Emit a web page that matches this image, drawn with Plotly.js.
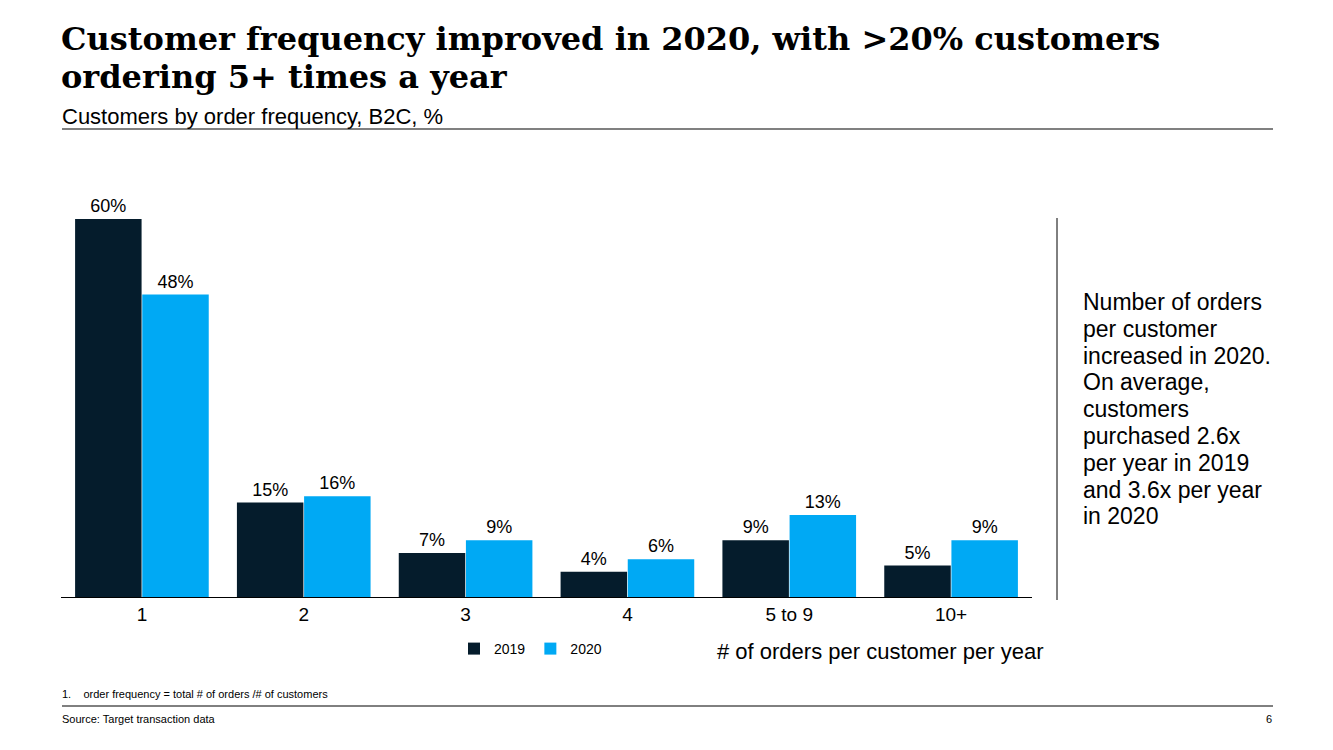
<!DOCTYPE html>
<html>
<head>
<meta charset="utf-8">
<script src="https://cdn.plot.ly/plotly-3.0.1.min.js"></script>
<style>
html,body{margin:0;padding:0;background:#fff;}
#chart{width:1333px;height:750px;}
</style>
</head>
<body>
<div id="chart"></div>
<script>
// ---- data ----
const categories = ["1", "2", "3", "4", "5 to 9", "10+"];
const values2019 = [60, 15, 7, 4, 9, 5];
const values2020 = [48, 16, 9, 6, 13, 9];
const seriesNames = ["2019", "2020"];
const titleLines = ["Customer frequency improved in 2020, with >20% customers", "ordering 5+ times a year"];
const subtitleText = "Customers by order frequency, B2C, %";
const xAxisTitle = "# of orders per customer per year";
const sideNoteLines = ["Number of orders", "per customer", "increased in 2020.", "On average,", "customers", "purchased 2.6x", "per year in 2019", "and 3.6x per year", "in 2020"];
const footnote = "1.&nbsp;&nbsp;&nbsp;&nbsp;order frequency = total # of orders /# of customers";
const sourceText = "Source: Target transaction data";
const pageNum = "6";

// ---- layout geometry ----
const W = 1333, H = 750;
const mL = 61, mR = W - 1032, mT = 170, mB = 153;
const plotW = W - mL - mR, plotH = H - mT - mB;
const pxPerUnit = 6.3;
const yMax = plotH / pxPerUnit;
const xp = px => (px - mL) / plotW;
const yp = py => (H - mB - py) / plotH;

const SANS = "Liberation Sans, Arial, sans-serif";
const SERIF = "DejaVu Serif, serif";
const dark = "#051C2C", light = "#00A9F4";

const traces = [
  {type: "bar", name: seriesNames[0], x: categories, y: values2019,
   marker: {color: dark}, text: values2019.map(v => v + "%"), textposition: "outside",
   textfont: {family: SANS, size: 18, color: "#000"}, cliponaxis: false, hoverinfo: "skip"},
  {type: "bar", name: seriesNames[1], x: categories, y: values2020,
   marker: {color: light}, text: values2020.map(v => v + "%"), textposition: "outside",
   textfont: {family: SANS, size: 18, color: "#000"}, cliponaxis: false, hoverinfo: "skip"}
];

const annotations = [
  {text: subtitleText, xref: "paper", yref: "paper", x: xp(60), y: yp(116), xanchor: "left", yanchor: "middle",
   showarrow: false, font: {family: SANS, size: 22, color: "#000"}},
  {text: xAxisTitle, xref: "paper", yref: "paper", x: xp(1045), y: yp(651), xanchor: "right", yanchor: "middle",
   showarrow: false, font: {family: SANS, size: 22, color: "#000"}},
  {text: footnote, xref: "paper", yref: "paper", x: xp(60), y: yp(694), xanchor: "left", yanchor: "middle",
   showarrow: false, font: {family: SANS, size: 11, color: "#000"}},
  {text: sourceText, xref: "paper", yref: "paper", x: xp(60), y: yp(719), xanchor: "left", yanchor: "middle",
   showarrow: false, font: {family: SANS, size: 11, color: "#000"}},
  {text: pageNum, xref: "paper", yref: "paper", x: xp(1274), y: yp(719), xanchor: "right", yanchor: "middle",
   showarrow: false, font: {family: SANS, size: 11, color: "#000"}}
];
titleLines.forEach((line, i) => {
  annotations.push({text: "<b>" + line + "</b>", xref: "paper", yref: "paper", x: xp(59), y: yp(39 + i * 38),
    xanchor: "left", yanchor: "middle", showarrow: false, font: {family: SERIF, size: 32, color: "#000"}});
});
sideNoteLines.forEach((line, i) => {
  annotations.push({text: line, xref: "paper", yref: "paper", x: xp(1081), y: yp(302 + i * 26.8),
    xanchor: "left", yanchor: "middle", showarrow: false, font: {family: SANS, size: 23, color: "#000"}});
});

const shapes = [
  {type: "line", xref: "paper", yref: "paper", x0: xp(62), x1: xp(1273), y0: yp(129), y1: yp(129),
   line: {color: "#808080", width: 2}},
  {type: "line", xref: "paper", yref: "paper", x0: xp(1057), x1: xp(1057), y0: yp(218), y1: yp(600),
   line: {color: "#000", width: 1}},
  {type: "line", xref: "paper", yref: "paper", x0: xp(62), x1: xp(1273), y0: yp(706), y1: yp(706),
   line: {color: "#000", width: 1}}
];

const layout = {
  width: W, height: H,
  margin: {l: mL, r: mR, t: mT, b: mB, pad: 0},
  paper_bgcolor: "#fff", plot_bgcolor: "#fff",
  barmode: "group", bargap: 0.17, bargroupgap: 0.01,
  xaxis: {type: "category", showline: true, linecolor: "#000", linewidth: 1, ticks: "", showgrid: false,
          tickfont: {family: SANS, size: 19, color: "#000"}, zeroline: false, fixedrange: true},
  yaxis: {range: [0, yMax], visible: false, showgrid: false, zeroline: false, fixedrange: true},
  showlegend: true,
  legend: {orientation: "h", x: xp(454), y: yp(649), xanchor: "left", yanchor: "middle",
           font: {family: SANS, size: 14, color: "#000"}, itemwidth: 30, traceorder: "normal",
           bgcolor: "rgba(0,0,0,0)"},
  annotations: annotations,
  shapes: shapes
};

Plotly.newPlot("chart", traces, layout, {displayModeBar: false, staticPlot: true});
</script>
</body>
</html>
